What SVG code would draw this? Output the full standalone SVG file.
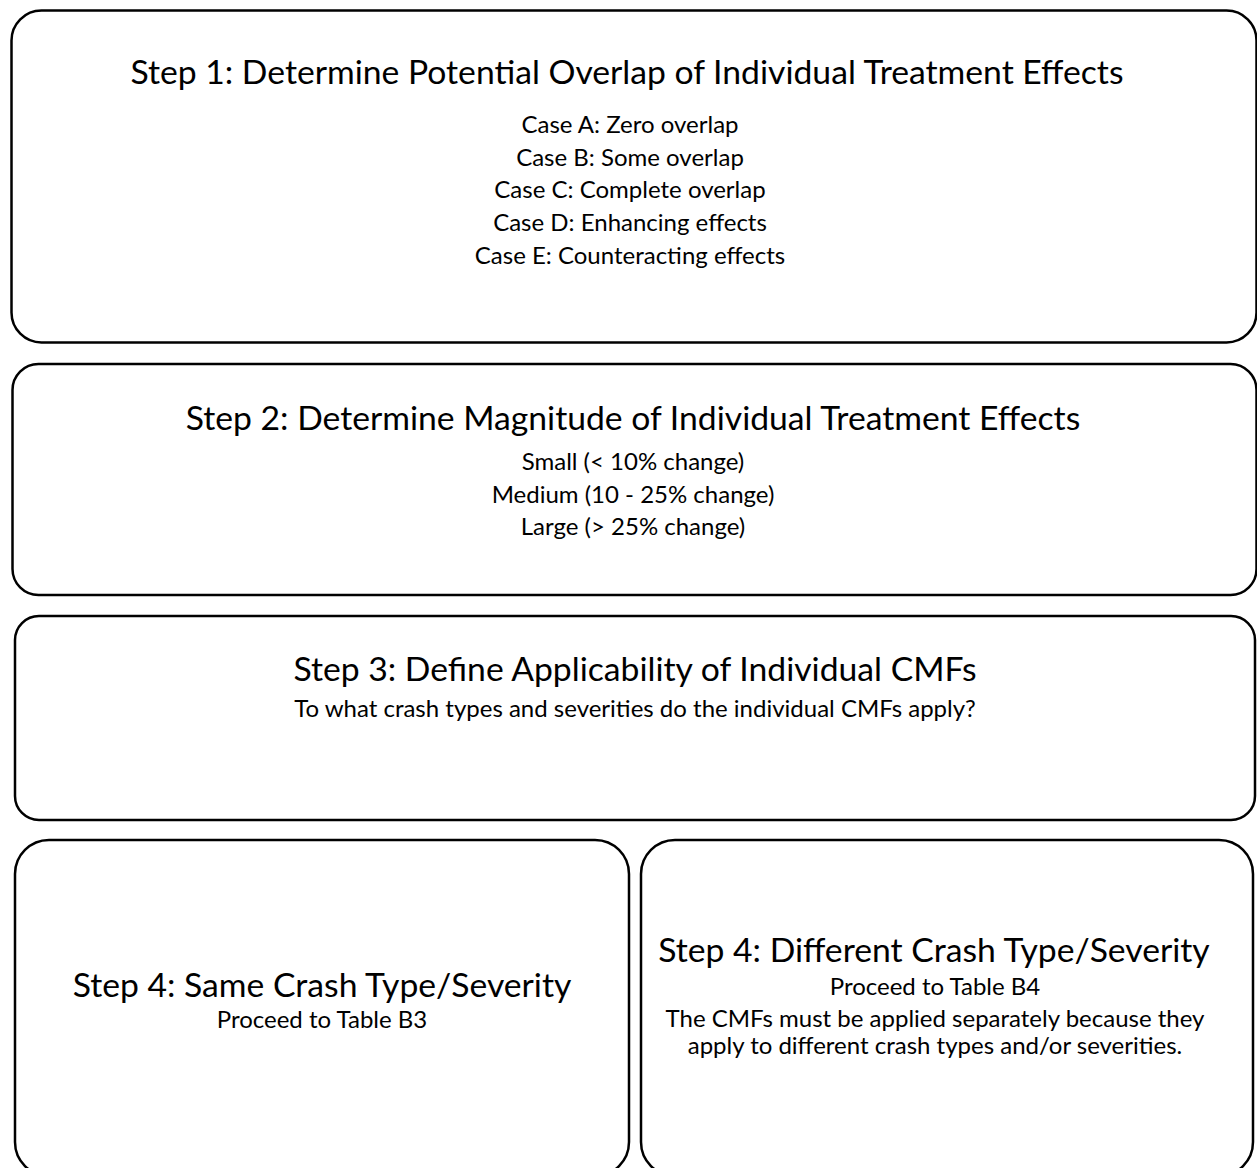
<svg xmlns="http://www.w3.org/2000/svg" width="1257" height="1168" viewBox="0 0 1257 1168">
<style>
.box{fill:#fff;stroke:#000;stroke-width:2.5}
.t{font-family:Lato,"Open Sans","Liberation Sans",sans-serif;fill:#000;text-anchor:middle}
.h{font-size:33.7px}
.s{font-size:24px}
</style>
<rect width="1257" height="1168" fill="#fff"/>
<g id="step1">
<rect class="box" x="11.5" y="10.5" width="1245" height="332" rx="30" ry="30"/>
<text class="t h" x="627" y="84">Step 1: Determine Potential Overlap of Individual Treatment Effects</text>
<text class="t s" x="630" y="133">Case A: Zero overlap</text>
<text class="t s" x="630" y="166">Case B: Some overlap</text>
<text class="t s" x="630" y="198">Case C: Complete overlap</text>
<text class="t s" x="630" y="231">Case D: Enhancing effects</text>
<text class="t s" x="630" y="264">Case E: Counteracting effects</text>
</g>
<g id="step2">
<rect class="box" x="12.5" y="364" width="1244" height="231" rx="26" ry="26"/>
<text class="t h" x="633" y="430">Step 2: Determine Magnitude of Individual Treatment Effects</text>
<text class="t s" x="633" y="470">Small (&lt; 10% change)</text>
<text class="t s" x="633" y="503">Medium (10 - 25% change)</text>
<text class="t s" x="633" y="535">Large (&gt; 25% change)</text>
</g>
<g id="step3">
<rect class="box" x="15" y="616" width="1240" height="204" rx="24" ry="24"/>
<text class="t h" x="635" y="681">Step 3: Define Applicability of Individual CMFs</text>
<text class="t s" x="635" y="717">To what crash types and severities do the individual CMFs apply?</text>
</g>
<g id="step4a">
<rect class="box" x="15" y="840" width="614" height="336" rx="34" ry="34"/>
<text class="t h" x="322" y="997">Step 4: Same Crash Type/Severity</text>
<text class="t s" x="322" y="1028">Proceed to Table B3</text>
</g>
<g id="step4b">
<rect class="box" x="641" y="840" width="612" height="336" rx="34" ry="34"/>
<text class="t h" x="934" y="962">Step 4: Different Crash Type/Severity</text>
<text class="t s" x="935" y="995">Proceed to Table B4</text>
<text class="t s" x="935" y="1027">The CMFs must be applied separately because they</text>
<text class="t s" x="935" y="1054">apply to different crash types and/or severities.</text>
</g>
<g id="connectors"></g>
</svg>
